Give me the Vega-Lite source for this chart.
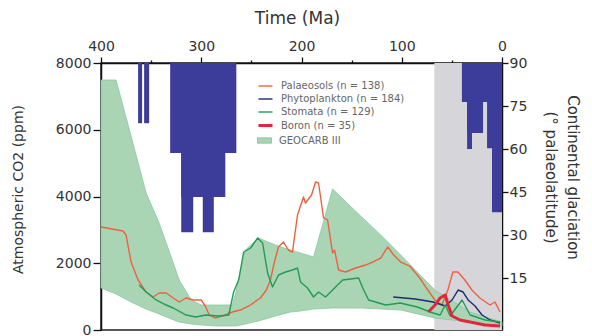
{
  "$schema": "https://vega.github.io/schema/vega-lite/v6.json",
  "width": 401,
  "height": 267,
  "autosize": {"type": "none"},
  "padding": {"left": 101, "top": 63, "right": 90, "bottom": 6},
  "background": "white",
  "config": {
    "font": "DejaVu Sans",
    "view": {"stroke": "#222", "strokeWidth": 1.5},
    "axis": {
      "grid": false,
      "domainColor": "#111",
      "domainWidth": 1.5,
      "tickColor": "#111",
      "tickWidth": 1.3,
      "labelFont": "DejaVu Sans",
      "labelFontSize": 14,
      "labelColor": "#333",
      "titleFont": "DejaVu Sans",
      "titleFontWeight": "normal",
      "titleColor": "#333"
    }
  },
  "datasets": {
    "cenozoic": [{"start": 67.5, "end": 0}],
    "geocarb": [
      {"t": 400, "hi": 7490, "lo": 1258, "name": "GEOCARB III"},
      {"t": 385, "hi": 7490, "lo": 1079, "name": "GEOCARB III"},
      {"t": 370, "hi": 5812, "lo": 839, "name": "GEOCARB III"},
      {"t": 355, "hi": 4105, "lo": 629, "name": "GEOCARB III"},
      {"t": 342, "hi": 3206, "lo": 479, "name": "GEOCARB III"},
      {"t": 330, "hi": 2187, "lo": 330, "name": "GEOCARB III"},
      {"t": 322, "hi": 1498, "lo": 240, "name": "GEOCARB III"},
      {"t": 310, "hi": 899, "lo": 180, "name": "GEOCARB III"},
      {"t": 300, "hi": 749, "lo": 150, "name": "GEOCARB III"},
      {"t": 285, "hi": 749, "lo": 120, "name": "GEOCARB III"},
      {"t": 269, "hi": 749, "lo": 120, "name": "GEOCARB III"},
      {"t": 265, "hi": 1198, "lo": 120, "name": "GEOCARB III"},
      {"t": 256, "hi": 2397, "lo": 180, "name": "GEOCARB III"},
      {"t": 243, "hi": 2756, "lo": 270, "name": "GEOCARB III"},
      {"t": 226, "hi": 2547, "lo": 419, "name": "GEOCARB III"},
      {"t": 211, "hi": 2397, "lo": 539, "name": "GEOCARB III"},
      {"t": 201, "hi": 2307, "lo": 569, "name": "GEOCARB III"},
      {"t": 188, "hi": 2187, "lo": 629, "name": "GEOCARB III"},
      {"t": 169, "hi": 4224, "lo": 659, "name": "GEOCARB III"},
      {"t": 141, "hi": 3415, "lo": 659, "name": "GEOCARB III"},
      {"t": 121, "hi": 2846, "lo": 629, "name": "GEOCARB III"},
      {"t": 101, "hi": 2247, "lo": 599, "name": "GEOCARB III"},
      {"t": 67, "hi": 1198, "lo": 360, "name": "GEOCARB III"},
      {"t": 32, "hi": 539, "lo": 240, "name": "GEOCARB III"},
      {"t": 0, "hi": 240, "lo": 120, "name": "GEOCARB III"}
    ],
    "proxies": [
      {"series": "Palaeosols", "t": 400, "co2": 3086},
      {"series": "Palaeosols", "t": 378, "co2": 2966},
      {"series": "Palaeosols", "t": 375, "co2": 2846},
      {"series": "Palaeosols", "t": 370, "co2": 2037},
      {"series": "Palaeosols", "t": 363, "co2": 1498},
      {"series": "Palaeosols", "t": 355, "co2": 1138},
      {"series": "Palaeosols", "t": 348, "co2": 989},
      {"series": "Palaeosols", "t": 342, "co2": 1108},
      {"series": "Palaeosols", "t": 335, "co2": 1108},
      {"series": "Palaeosols", "t": 328, "co2": 959},
      {"series": "Palaeosols", "t": 322, "co2": 839},
      {"series": "Palaeosols", "t": 315, "co2": 959},
      {"series": "Palaeosols", "t": 308, "co2": 899},
      {"series": "Palaeosols", "t": 300, "co2": 899},
      {"series": "Palaeosols", "t": 296, "co2": 719},
      {"series": "Palaeosols", "t": 292, "co2": 449},
      {"series": "Palaeosols", "t": 286, "co2": 360},
      {"series": "Palaeosols", "t": 276, "co2": 449},
      {"series": "Palaeosols", "t": 269, "co2": 539},
      {"series": "Palaeosols", "t": 261, "co2": 599},
      {"series": "Palaeosols", "t": 251, "co2": 749},
      {"series": "Palaeosols", "t": 241, "co2": 959},
      {"series": "Palaeosols", "t": 235, "co2": 1198},
      {"series": "Palaeosols", "t": 231, "co2": 1498},
      {"series": "Palaeosols", "t": 227, "co2": 2037},
      {"series": "Palaeosols", "t": 223, "co2": 2487},
      {"series": "Palaeosols", "t": 218, "co2": 2636},
      {"series": "Palaeosols", "t": 213, "co2": 2397},
      {"series": "Palaeosols", "t": 209, "co2": 2337},
      {"series": "Palaeosols", "t": 204, "co2": 3445},
      {"series": "Palaeosols", "t": 198, "co2": 3985},
      {"series": "Palaeosols", "t": 196, "co2": 3805},
      {"series": "Palaeosols", "t": 190, "co2": 4045},
      {"series": "Palaeosols", "t": 186, "co2": 4434},
      {"series": "Palaeosols", "t": 183, "co2": 4404},
      {"series": "Palaeosols", "t": 178, "co2": 3356},
      {"series": "Palaeosols", "t": 174, "co2": 3296},
      {"series": "Palaeosols", "t": 169, "co2": 2307},
      {"series": "Palaeosols", "t": 167, "co2": 2397},
      {"series": "Palaeosols", "t": 163, "co2": 1798},
      {"series": "Palaeosols", "t": 156, "co2": 1738},
      {"series": "Palaeosols", "t": 146, "co2": 1857},
      {"series": "Palaeosols", "t": 136, "co2": 1947},
      {"series": "Palaeosols", "t": 129, "co2": 2037},
      {"series": "Palaeosols", "t": 121, "co2": 2157},
      {"series": "Palaeosols", "t": 114, "co2": 2487},
      {"series": "Palaeosols", "t": 108, "co2": 2247},
      {"series": "Palaeosols", "t": 101, "co2": 2037},
      {"series": "Palaeosols", "t": 92, "co2": 1917},
      {"series": "Palaeosols", "t": 82, "co2": 1558},
      {"series": "Palaeosols", "t": 74, "co2": 1198},
      {"series": "Palaeosols", "t": 67, "co2": 899},
      {"series": "Palaeosols", "t": 60, "co2": 749},
      {"series": "Palaeosols", "t": 54, "co2": 1198},
      {"series": "Palaeosols", "t": 49, "co2": 1738},
      {"series": "Palaeosols", "t": 44, "co2": 1738},
      {"series": "Palaeosols", "t": 37, "co2": 1498},
      {"series": "Palaeosols", "t": 30, "co2": 1198},
      {"series": "Palaeosols", "t": 22, "co2": 959},
      {"series": "Palaeosols", "t": 12, "co2": 749},
      {"series": "Palaeosols", "t": 7, "co2": 839},
      {"series": "Palaeosols", "t": 2, "co2": 539},
      {"series": "Phytoplankton", "t": 108.5, "co2": 989},
      {"series": "Phytoplankton", "t": 86.6, "co2": 929},
      {"series": "Phytoplankton", "t": 68.7, "co2": 839},
      {"series": "Phytoplankton", "t": 56.7, "co2": 719},
      {"series": "Phytoplankton", "t": 49.8, "co2": 899},
      {"series": "Phytoplankton", "t": 43.8, "co2": 1198},
      {"series": "Phytoplankton", "t": 38.8, "co2": 1138},
      {"series": "Phytoplankton", "t": 33.8, "co2": 899},
      {"series": "Phytoplankton", "t": 26.9, "co2": 719},
      {"series": "Phytoplankton", "t": 19.9, "co2": 449},
      {"series": "Phytoplankton", "t": 11.9, "co2": 300},
      {"series": "Phytoplankton", "t": 2, "co2": 210},
      {"series": "Stomata", "t": 362, "co2": 1348},
      {"series": "Stomata", "t": 355, "co2": 1138},
      {"series": "Stomata", "t": 345, "co2": 899},
      {"series": "Stomata", "t": 335, "co2": 749},
      {"series": "Stomata", "t": 328, "co2": 659},
      {"series": "Stomata", "t": 315, "co2": 449},
      {"series": "Stomata", "t": 305.5, "co2": 389},
      {"series": "Stomata", "t": 295.5, "co2": 449},
      {"series": "Stomata", "t": 282.6, "co2": 419},
      {"series": "Stomata", "t": 272.6, "co2": 449},
      {"series": "Stomata", "t": 267.7, "co2": 1138},
      {"series": "Stomata", "t": 262.7, "co2": 1498},
      {"series": "Stomata", "t": 257.7, "co2": 2337},
      {"series": "Stomata", "t": 250.7, "co2": 2457},
      {"series": "Stomata", "t": 243.8, "co2": 2756},
      {"series": "Stomata", "t": 238.8, "co2": 2607},
      {"series": "Stomata", "t": 233.8, "co2": 1708},
      {"series": "Stomata", "t": 228.9, "co2": 1288},
      {"series": "Stomata", "t": 222.9, "co2": 1648},
      {"series": "Stomata", "t": 215.9, "co2": 1738},
      {"series": "Stomata", "t": 209, "co2": 1798},
      {"series": "Stomata", "t": 204, "co2": 1857},
      {"series": "Stomata", "t": 201, "co2": 1438},
      {"series": "Stomata", "t": 194, "co2": 1258},
      {"series": "Stomata", "t": 188, "co2": 989},
      {"series": "Stomata", "t": 183, "co2": 1138},
      {"series": "Stomata", "t": 176, "co2": 989},
      {"series": "Stomata", "t": 166, "co2": 1288},
      {"series": "Stomata", "t": 159, "co2": 1498},
      {"series": "Stomata", "t": 143, "co2": 1558},
      {"series": "Stomata", "t": 138, "co2": 1198},
      {"series": "Stomata", "t": 133, "co2": 899},
      {"series": "Stomata", "t": 116, "co2": 749},
      {"series": "Stomata", "t": 101.5, "co2": 809},
      {"series": "Stomata", "t": 84.6, "co2": 689},
      {"series": "Stomata", "t": 68.7, "co2": 509},
      {"series": "Stomata", "t": 61.7, "co2": 449},
      {"series": "Stomata", "t": 56.7, "co2": 749},
      {"series": "Stomata", "t": 51.7, "co2": 419},
      {"series": "Stomata", "t": 45.8, "co2": 659},
      {"series": "Stomata", "t": 39.8, "co2": 899},
      {"series": "Stomata", "t": 31.8, "co2": 449},
      {"series": "Stomata", "t": 16.9, "co2": 300},
      {"series": "Stomata", "t": 2, "co2": 240},
      {"series": "Boron", "t": 73.6, "co2": 539},
      {"series": "Boron", "t": 66.7, "co2": 749},
      {"series": "Boron", "t": 61.7, "co2": 959},
      {"series": "Boron", "t": 56.7, "co2": 1049},
      {"series": "Boron", "t": 53.7, "co2": 749},
      {"series": "Boron", "t": 49.8, "co2": 419},
      {"series": "Boron", "t": 41.8, "co2": 300},
      {"series": "Boron", "t": 31.8, "co2": 240},
      {"series": "Boron", "t": 16.9, "co2": 150},
      {"series": "Boron", "t": 2, "co2": 120}
    ],
    "glaciation": [
      {"start": 363, "end": 359, "lat": 69},
      {"start": 357, "end": 352, "lat": 69},
      {"start": 331, "end": 265, "lat": 58.6},
      {"start": 320, "end": 276, "lat": 43.3},
      {"start": 320, "end": 308, "lat": 31},
      {"start": 298.5, "end": 287.5, "lat": 31},
      {"start": 40, "end": 0, "lat": 76.4},
      {"start": 34.8, "end": 18.9, "lat": 65.6},
      {"start": 34.8, "end": 29.9, "lat": 60},
      {"start": 14.9, "end": 0, "lat": 60.3},
      {"start": 10, "end": 0, "lat": 38}
    ]
  },
  "layer": [
    {
      "layer": [
        {
          "data": {"name": "cenozoic"},
          "mark": {"type": "rect", "color": "#d6d6da"},
          "encoding": {
            "x": {
              "field": "start",
              "type": "quantitative",
              "scale": {"domain": [0, 400], "reverse": true, "nice": false, "zero": false},
              "axis": {
                "orient": "top",
                "title": "Time (Ma)",
                "titleFontSize": 17,
                "titleX": 196,
                "titleY": -45,
                "titleBaseline": "middle",
                "values": [400, 350, 300, 250, 200, 150, 100, 50, 0],
                "labelExpr": "datum.value % 100 === 0 ? datum.label : ''",
                "labelFlush": false,
                "labelOverlap": false,
                "labelPadding": 4,
                "tickSize": {"condition": {"test": "datum.value % 100 === 0", "value": 6}, "value": 3}
              }
            },
            "x2": {"field": "end"}
          }
        },
        {
          "data": {"name": "geocarb"},
          "mark": {"type": "area", "stroke": "#8cc6a0", "strokeWidth": 0.8},
          "encoding": {
            "x": {"field": "t", "type": "quantitative", "scale": {"domain": [0, 400], "reverse": true, "nice": false, "zero": false}},
            "y": {
              "field": "hi",
              "type": "quantitative",
              "scale": {"domain": [0, 8000], "nice": false},
              "axis": {
                "orient": "left",
                "title": "Atmospheric CO2 (ppm)",
                "titleFontSize": 14,
                "titleX": -83,
                "titleY": 126,
                "titleBaseline": "middle",
                "titleAlign": "center",
                "titleAngle": -90,
                "values": [0, 1000, 2000, 3000, 4000, 5000, 6000, 7000, 8000],
                "format": "d",
                "labelExpr": "datum.value % 2000 === 0 ? datum.label : ''",
                "labelFlush": false,
                "labelOverlap": false,
                "labelPadding": 2,
                "tickSize": {"condition": {"test": "datum.value % 2000 === 0", "value": 8}, "value": 4}
              }
            },
            "y2": {"field": "lo"},
            "fill": {
              "field": "name",
              "type": "nominal",
              "scale": {"domain": ["GEOCARB III"], "range": ["#a9d5b5"]},
              "legend": {
                "orient": "none",
                "legendX": 156,
                "legendY": 70,
                "title": null,
                "symbolType": "M-1,-0.38H1V0.38H-1Z",
                "symbolSize": 196,
                "symbolStrokeColor": "#7fbf95",
                "symbolStrokeWidth": 0.8,
                "labelFontSize": 10,
                "labelColor": "#666",
                "labelOffset": 7,
                "padding": 0
              }
            }
          }
        },
        {
          "data": {"name": "proxies"},
          "mark": {"type": "line", "strokeJoin": "round"},
          "encoding": {
            "x": {"field": "t", "type": "quantitative", "scale": {"domain": [0, 400], "reverse": true, "nice": false, "zero": false}},
            "y": {"field": "co2", "type": "quantitative", "scale": {"domain": [0, 8000], "nice": false}},
            "color": {
              "field": "series",
              "type": "nominal",
              "scale": {"domain": ["Palaeosols", "Phytoplankton", "Stomata", "Boron"], "range": ["#ec6240", "#1f2a70", "#239b56", "#e0283a"]},
              "legend": {
                "orient": "none",
                "legendX": 156,
                "legendY": 15,
                "title": null,
                "symbolType": "stroke",
                "symbolSize": 196,
                "labelFontSize": 10,
                "labelColor": "#666",
                "labelOffset": 7,
                "padding": 0,
                "rowPadding": 0,
                "labelExpr": "datum.label === 'Palaeosols' ? 'Palaeosols (n = 138)' : datum.label === 'Phytoplankton' ? 'Phytoplankton (n = 184)' : datum.label === 'Stomata' ? 'Stomata (n = 129)' : 'Boron (n = 35)'"
              }
            },
            "strokeWidth": {
              "field": "series",
              "type": "nominal",
              "scale": {"type": "ordinal", "domain": ["Palaeosols", "Phytoplankton", "Stomata", "Boron"], "range": [1.4, 1.4, 1.4, 3]},
              "legend": {
                "orient": "none",
                "legendX": 156,
                "legendY": 15,
                "title": null,
                "symbolType": "stroke",
                "symbolSize": 196,
                "labelFontSize": 10,
                "labelColor": "#666",
                "labelOffset": 7,
                "padding": 0,
                "rowPadding": 0,
                "labelExpr": "datum.label === 'Palaeosols' ? 'Palaeosols (n = 138)' : datum.label === 'Phytoplankton' ? 'Phytoplankton (n = 184)' : datum.label === 'Stomata' ? 'Stomata (n = 129)' : 'Boron (n = 35)'"
              }
            }
          }
        }
      ]
    },
    {
      "data": {"name": "glaciation"},
      "mark": {"type": "rect", "color": "#3c3c9a"},
      "encoding": {
        "x": {"field": "start", "type": "quantitative", "scale": {"domain": [0, 400], "reverse": true, "nice": false, "zero": false}},
        "x2": {"field": "end"},
        "y": {
          "field": "lat",
          "type": "quantitative",
          "scale": {"domain": [-3.1, 90], "nice": false, "zero": false},
          "axis": {
            "orient": "right",
            "title": ["Continental glaciation", "(° palaeolatitude)"],
            "titleFontSize": 15,
            "titleLineHeight": 22,
            "titleAngle": 90,
            "titleX": 70,
            "titleY": 114,
            "titleBaseline": "middle",
            "titleAlign": "center",
            "values": [15, 30, 45, 60, 75, 90],
            "labelFlush": false,
            "labelOverlap": false,
            "labelPadding": 1,
            "tickSize": 6
          }
        },
        "y2": {"datum": 90}
      }
    }
  ],
  "resolve": {"scale": {"y": "independent"}, "axis": {"y": "independent"}}
}
